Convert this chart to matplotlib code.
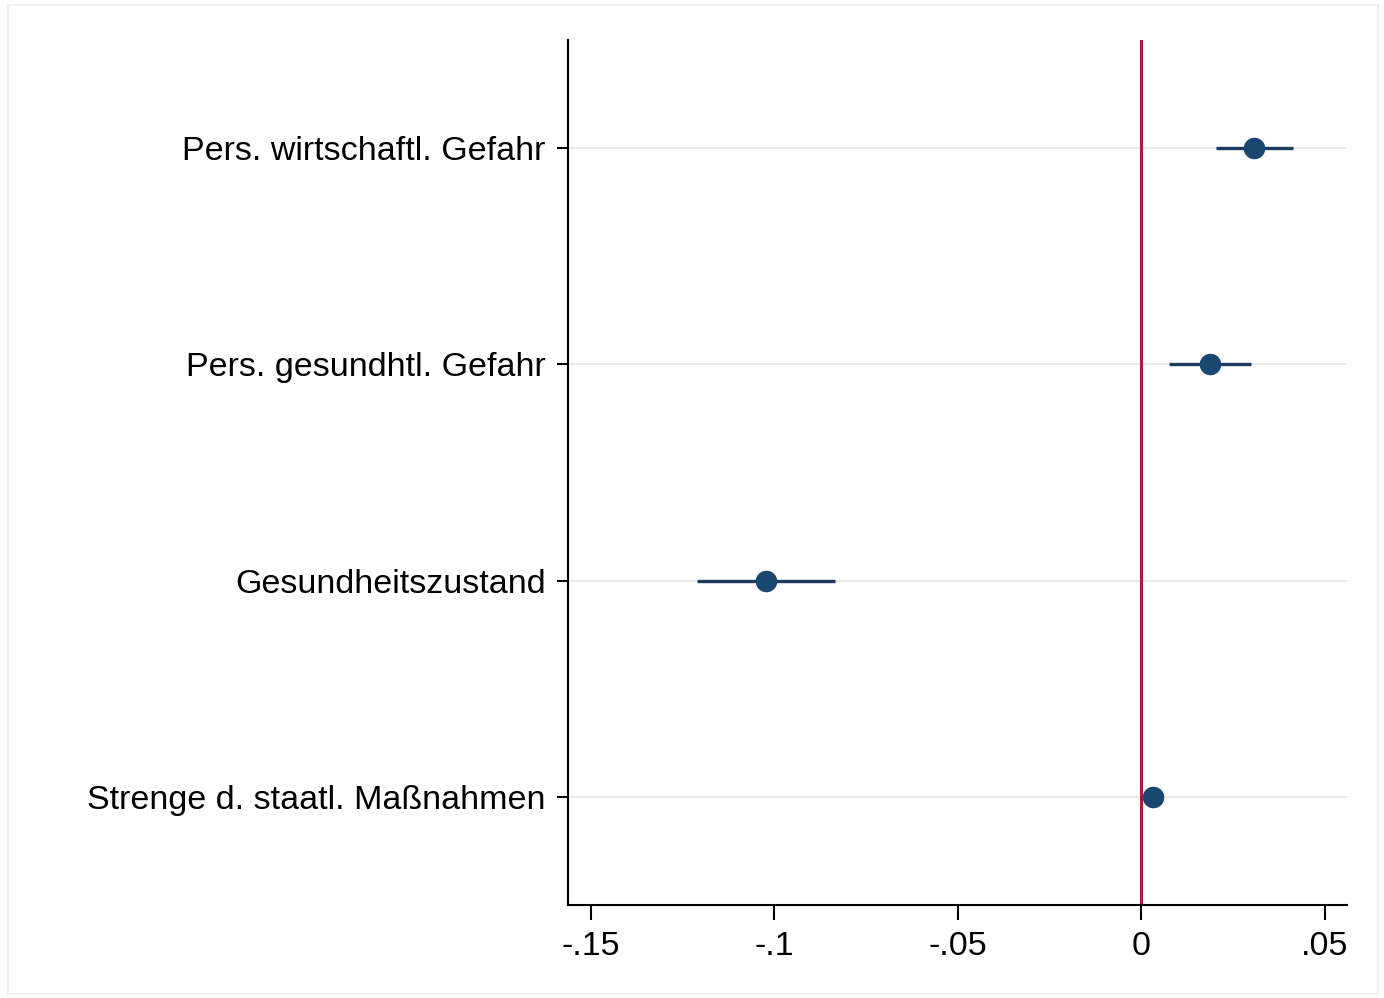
import matplotlib.pyplot as plt
from matplotlib.patches import Rectangle

# Koeffizienten und Konfidenzintervalle
labels = ['Pers. wirtschaftl. Gefahr', 'Pers. gesundhtl. Gefahr',
          'Gesundheitszustand', 'Strenge d. staatl. Maßnahmen']
coef = [0.0308, 0.0188, -0.1022, 0.0033]
ci_low = [0.0204, 0.0076, -0.1210, 0.0020]
ci_high = [0.0414, 0.0300, -0.0834, 0.0046]
xticks = [-0.15, -0.1, -0.05, 0, 0.05]
xticklabels = ['-.15', '-.1', '-.05', '0', '.05']

plt.rcParams['font.family'] = ['Liberation Sans', 'DejaVu Sans']

fig = plt.figure(figsize=(13.84, 9.98), dpi=100)
ax = fig.add_axes([0.4104, 0.0932, 0.5629, 0.8667])

# leichter Rahmen um die Grafik
fig.patches.append(Rectangle((0.006, 0.004), 0.99, 0.991, transform=fig.transFigure,
                             fill=False, edgecolor='#f0f0f0', linewidth=1.5))

y = list(range(len(labels), 0, -1))

for yi in y:
    ax.axhline(yi, color='#eaeaea', linewidth=1.5, zorder=0)

ax.axvline(0, color='#b5163f', linewidth=2.2, zorder=1)

ax.hlines(y, ci_low, ci_high, color='#1d3a5c', linewidth=2.4, zorder=2)
ax.plot(coef, y, 'o', color='#1a476f', markersize=14.5, zorder=3)

ax.set_xlim(-0.1562, 0.0561)
ax.set_ylim(0.5, 4.5)
ax.set_yticks(y)
ax.set_yticklabels(labels, fontsize=24.5)
ax.set_xticks(xticks)
ax.set_xticklabels(xticklabels, fontsize=24.5)

for s in ['top', 'right']:
    ax.spines[s].set_visible(False)
for s in ['left', 'bottom']:
    ax.spines[s].set_linewidth(1.5)
ax.tick_params(axis='y', length=8, width=1.5, pad=8)
ax.tick_params(axis='x', length=11, width=1.5, pad=8)

plt.savefig('out.png', dpi=100)
